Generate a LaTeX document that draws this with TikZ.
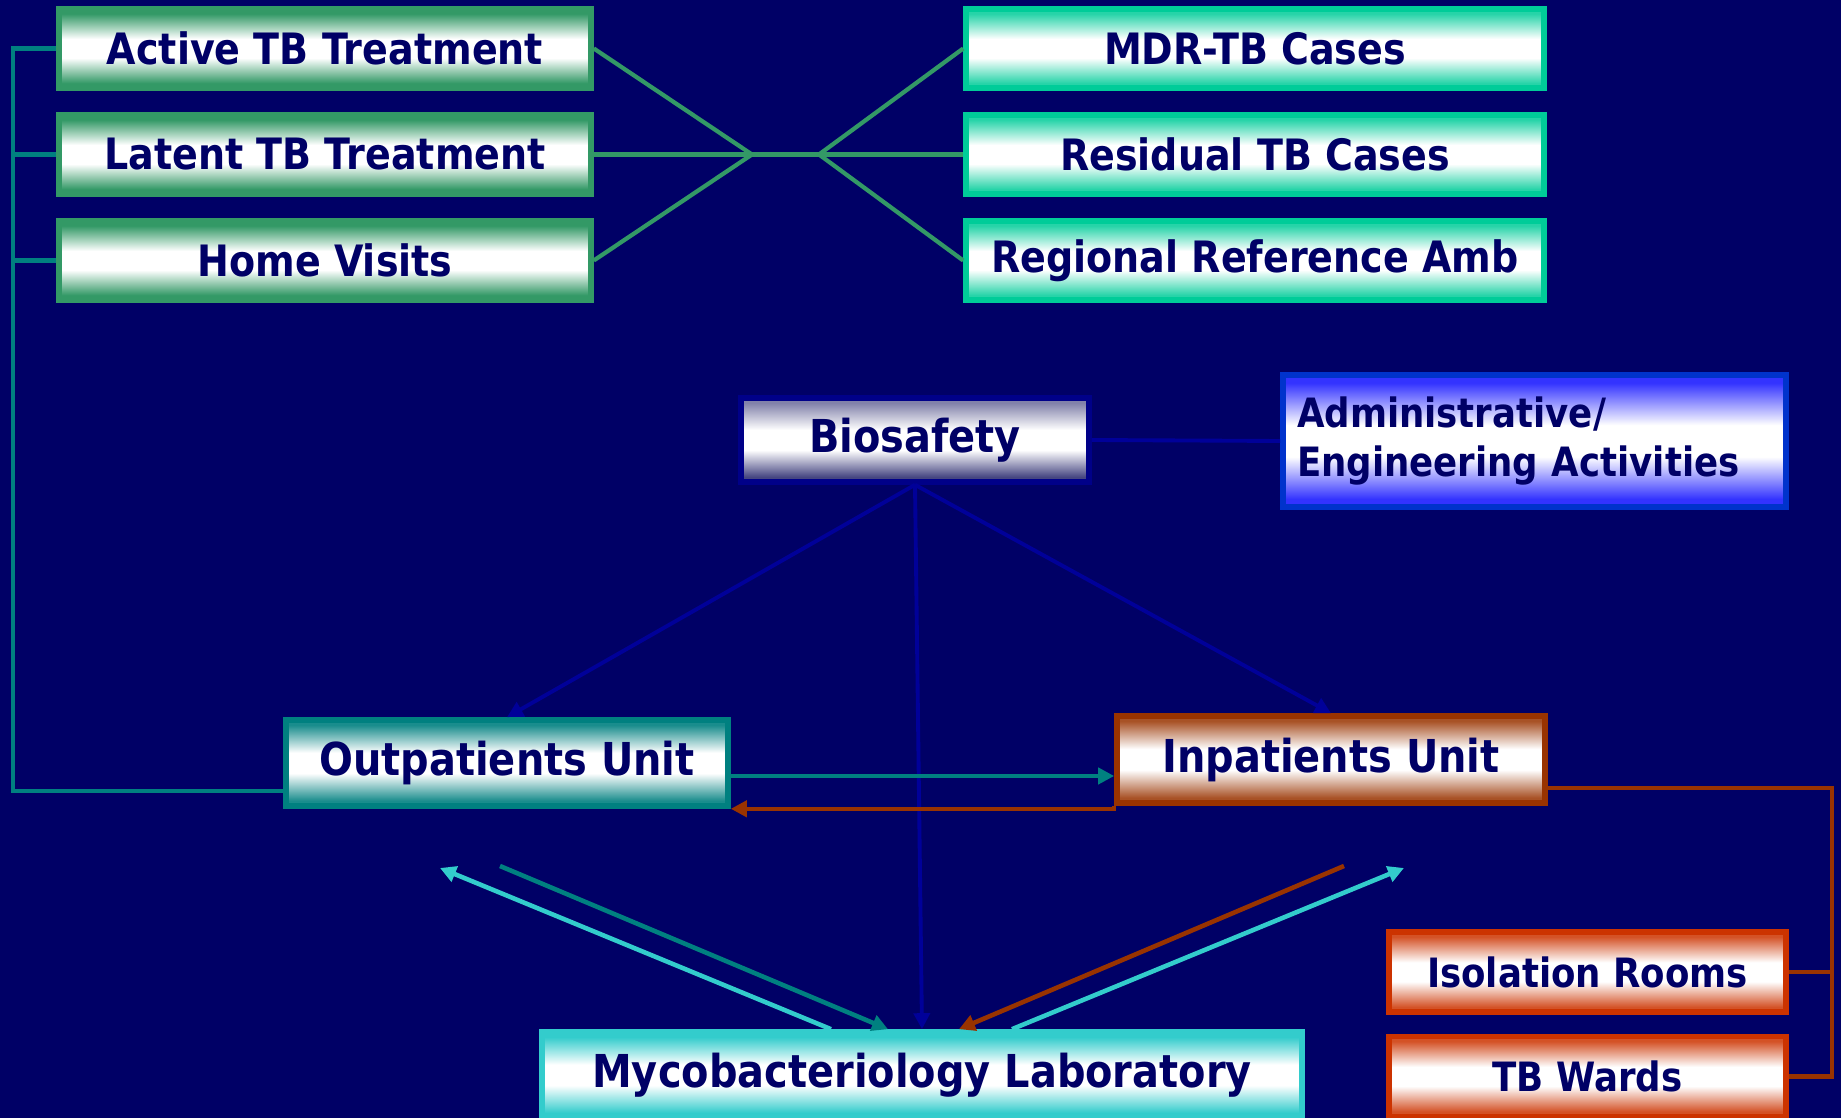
\documentclass[tikz,border=0pt]{standalone}
\usepackage{fontspec}
\setmainfont{DejaVu Sans}[FakeStretch=0.88]
\usetikzlibrary{arrows.meta}

\definecolor{navy}{RGB}{0,0,102}
\definecolor{grnbor}{RGB}{51,153,102}
\definecolor{mintbor}{RGB}{0,204,153}
\definecolor{tealc}{RGB}{0,128,128}
\definecolor{biobor}{RGB}{0,0,136}
\definecolor{biotop}{RGB}{130,130,170}
\definecolor{biobot}{RGB}{70,70,130}
\definecolor{admbor}{RGB}{0,51,204}
\definecolor{admfill}{RGB}{51,51,255}
\definecolor{brnc}{RGB}{153,51,0}
\definecolor{redbor}{RGB}{204,51,0}
\definecolor{cyanc}{RGB}{51,204,204}
\definecolor{bioline}{RGB}{0,0,153}

\colorlet{fadetop}{white}
\colorlet{fadebot}{white}
\pgfdeclareverticalshading[fadetop,fadebot]{edgefade}{100bp}{%
  color(0bp)=(fadebot); color(28bp)=(fadebot); color(44bp)=(white);
  color(56bp)=(white); color(72bp)=(fadetop); color(100bp)=(fadetop)}

\begin{document}
\begin{tikzpicture}[
    >={Triangle[length=1.6mm, width=1.6mm]},
    box/.style={draw, line width=1.6pt, inner sep=0pt, text=navy, align=center},
    small/.style={font=\fontsize{12.3}{14}\selectfont\bfseries},
    medium/.style={font=\fontsize{11.5}{14.2}\selectfont\bfseries},
    large/.style={font=\fontsize{12.9}{15}\selectfont\bfseries},
    fade/.style 2 args={/utils/exec={\colorlet{fadetop}{#1}\colorlet{fadebot}{#2}}, shading=edgefade},
    grnbox/.style={box, small, draw=grnbor, fade={grnbor}{grnbor}, minimum width=5.32cm, minimum height=0.79cm},
    mintbox/.style={box, small, draw=mintbor, fade={mintbor!85}{mintbor!85}, minimum width=5.78cm, minimum height=0.79cm},
    biobox/.style={box, large, draw=biobor, fade={biotop}{biobot}, minimum width=3.48cm, minimum height=0.84cm},
    admbox/.style={box, medium, draw=admbor, fade={admfill}{admfill}, align=left, text width=4.75cm, inner xsep=1.4mm, minimum height=1.32cm},
    outbox/.style={box, large, draw=tealc, fade={tealc!90}{tealc!90}, minimum width=4.42cm, minimum height=0.86cm},
    inbox/.style={box, large, draw=brnc, fade={brnc!85}{brnc!85}, minimum width=4.28cm, minimum height=0.87cm},
    redbox/.style={box, medium, draw=redbor, fade={redbor!85}{redbor!85}, minimum width=3.97cm, minimum height=0.80cm},
    labbox/.style={box, large, draw=cyanc, fade={cyanc}{cyanc}, minimum width=7.60cm, minimum height=0.86cm},
    grnline/.style={draw=grnbor, line width=1.2pt},
    tealline/.style={draw=tealc, line width=1.3pt},
    brnline/.style={draw=brnc, line width=1.3pt},
    cyanline/.style={draw=cyanc, line width=1.3pt},
    bioarrow/.style={draw=bioline, line width=1.1pt}
  ]
    \path[fill=navy, use as bounding box] (0,0) rectangle (18.41,-11.18);

    % treatment side
    \node[grnbox] (act) at (3.25,-0.485)           {Active TB Treatment};
    \node[grnbox] (lat) at ([shift={(0,-1.06)}] act) {Latent TB Treatment};
    \node[grnbox] (hom) at ([shift={(0,-1.06)}] lat) {Home Visits};
    \node[mintbox] (mdr) at ([shift={(9.30,0)}] act) {MDR-TB Cases};
    \node[mintbox] (res) at ([shift={(9.30,0)}] lat) {Residual TB Cases};
    \node[mintbox] (reg) at ([shift={(9.30,0)}] hom) {Regional Reference Amb};

    % biosafety and units
    \node[biobox] (bio) at (9.15,-4.40)                {Biosafety};
    \node[admbox] (adm) at ([shift={(6.195,-0.01)}] bio) {Administrative/\\Engineering Activities};
    \node[outbox] (out) at (5.07,-7.63)                {Outpatients Unit};
    \node[inbox]  (inp) at ([shift={(8.24,0.035)}] out) {Inpatients Unit};
    \node[labbox] (lab) at (9.22,-10.75)               {Mycobacteriology Laboratory};
    \node[redbox] (iso) at (15.875,-9.72)              {Isolation Rooms};
    \node[redbox] (war) at ([shift={(0,-1.045)}] iso)  {TB Wards};

    \coordinate (jl)  at (7.52,-1.545);
    \coordinate (jr)  at (8.19,-1.545);
    \coordinate (bus) at (0.13,-7.91);
    \coordinate (rb)  at (18.32,-7.88);
    \coordinate (cl)  at (4.40,-8.68);
    \coordinate (tl)  at (5.00,-8.66);
    \coordinate (bl)  at (13.44,-8.66);
    \coordinate (cr)  at (14.04,-8.68);

    \draw[grnline] (act.east) -- (jl) -- (hom.east);
    \draw[grnline] (lat.east) -- (res.west);
    \draw[grnline] (mdr.west) -- (jr) -- (reg.west);

    \draw[tealline] (act.west) -| (bus) -- (bus -| out.west);
    \draw[tealline] (lat.west) -- (lat.west -| bus);
    \draw[tealline] (hom.west) -- (hom.west -| bus);

    \draw[bioarrow] (bio.east) -- (adm.west);
    \draw[bioarrow, ->] (bio.south) -- (out.north);
    \draw[bioarrow, ->] (bio.south) -- (inp.north);
    \draw[bioarrow, ->] (bio.south) -- (lab.north);

    \draw[tealline, ->] ([yshift=-1.3mm] out.east) -- ([yshift=-1.3mm] out.east -| inp.west);
    \draw[brnline, ->] (inp.south west) |- (out.south east);

    \draw[brnline] (rb -| inp.east) -- (rb) |- (war.east);
    \draw[brnline] (iso.east) -- (iso.east -| rb);

    \draw[cyanline, ->] ([xshift=-9.1mm] lab.north) -- (cl);
    \draw[tealline, ->] (tl) -- ([xshift=-3.4mm] lab.north);
    \draw[brnline, ->]  (bl) -- ([xshift=3.7mm] lab.north);
    \draw[cyanline, ->] ([xshift=9mm] lab.north) -- (cr);
  \end{tikzpicture}
\end{document}
